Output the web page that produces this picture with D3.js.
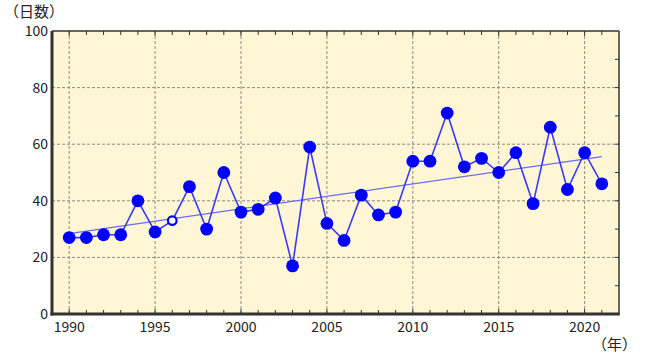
<!DOCTYPE html>
<html><head><meta charset="utf-8">
<script src="https://cdn.jsdelivr.net/npm/d3@7"></script>
<style>body{margin:0;background:#fff}svg{display:block}</style>
</head><body><svg id="c" width="660" height="355"></svg>
<script>
const years = d3.range(1990, 2022);
const days = [27,27,28,28,40,29,33,45,30,50,36,37,41,17,59,32,26,42,35,36,54,54,71,52,55,50,57,39,66,44,57,46];
const openYears = [1996];
const trendYears = [1990, 2021];
const trendValues = [28.4, 55.6];
const xTicks = [1990,1995,2000,2005,2010,2015,2020];
const yTicks = [0,20,40,60,80,100];

const svg = d3.select('#c');
const L=52, R=619, T=31, B=314;
const x = d3.scaleLinear().domain([1989,2022]).range([L,R]);
const y = d3.scaleLinear().domain([0,100]).range([B,T]);
const font = '"Noto Sans CJK JP", sans-serif';

svg.append('rect').attr('x',L).attr('y',T).attr('width',R-L).attr('height',B-T).attr('fill','#FFF6D5');

const g = svg.append('g');
// grid
g.selectAll('.vg').data(xTicks).enter().append('line')
 .attr('x1',d=>x(d)).attr('x2',d=>x(d)).attr('y1',T).attr('y2',B)
 .attr('stroke','#8a8a80').attr('stroke-width',1).attr('stroke-dasharray','3,2');
g.selectAll('.hg').data([20,40,60,80]).enter().append('line')
 .attr('x1',L).attr('x2',R).attr('y1',d=>y(d)).attr('y2',d=>y(d))
 .attr('stroke','#8a8a80').attr('stroke-width',1).attr('stroke-dasharray','3,2');

// minor ticks
const allYears = d3.range(1990,2022);
g.selectAll('.bt').data(allYears).enter().append('line')
 .attr('x1',d=>x(d)).attr('x2',d=>x(d)).attr('y1',B).attr('y2',d=>B-(d%5===0?5:4))
 .attr('stroke','#333').attr('stroke-width',1);
g.selectAll('.tt').data(allYears).enter().append('line')
 .attr('x1',d=>x(d)).attr('x2',d=>x(d)).attr('y1',T).attr('y2',d=>T+(d%5===0?5:4))
 .attr('stroke','#333').attr('stroke-width',1);
g.selectAll('.rt').data(d3.range(10,100,10)).enter().append('line')
 .attr('x1',R).attr('x2',R-4).attr('y1',d=>y(d)).attr('y2',d=>y(d))
 .attr('stroke','#333').attr('stroke-width',1);

// frame
svg.append('line').attr('x1',L).attr('x2',R).attr('y1',T).attr('y2',T).attr('stroke','#333').attr('stroke-width',1.5);
svg.append('line').attr('x1',R).attr('x2',R).attr('y1',T).attr('y2',B).attr('stroke','#333').attr('stroke-width',1.5);
svg.append('line').attr('x1',L).attr('x2',L).attr('y1',T).attr('y2',B+1.5).attr('stroke','#333').attr('stroke-width',3);
svg.append('line').attr('x1',L-1.5).attr('x2',R+0.75).attr('y1',B).attr('y2',B).attr('stroke','#333').attr('stroke-width',3);

// axes labels
svg.selectAll('.yl').data(yTicks).enter().append('text')
 .attr('x',L-4).attr('y',d=>y(d)+5).attr('text-anchor','end')
 .attr('font-family',font).attr('font-size',14).attr('fill','#222').text(d=>d);
svg.selectAll('.xl').data(xTicks).enter().append('text')
 .attr('x',d=>x(d)).attr('y',B+18).attr('text-anchor','middle')
 .attr('font-family',font).attr('font-size',14).attr('fill','#222').text(d=>d);
svg.append('text').attr('x',4).attr('y',17).attr('font-family',font).attr('font-size',15).attr('fill','#222').text('（日数）');
svg.append('text').attr('x',592).attr('y',350).attr('font-family',font).attr('font-size',15).attr('fill','#222').text('（年）');

// trend
svg.append('line').attr('x1',x(trendYears[0])).attr('x2',x(trendYears[1]))
 .attr('y1',y(trendValues[0])).attr('y2',y(trendValues[1]))
 .attr('stroke','#6a6af5').attr('stroke-width',1.2);

// data line
const line = d3.line().x((d,i)=>x(years[i])).y(d=>y(d));
svg.append('path').datum(days).attr('d',line).attr('fill','none').attr('stroke','#3a3af5').attr('stroke-width',1.6);

// markers
svg.selectAll('.pt').data(days).enter().append('circle')
 .attr('cx',(d,i)=>x(years[i])).attr('cy',d=>y(d))
 .attr('r',(d,i)=>openYears.includes(years[i])?4.3:6.4)
 .attr('fill',(d,i)=>openYears.includes(years[i])?'#fff':'#0000ff')
 .attr('stroke','#0000ff').attr('stroke-width',(d,i)=>openYears.includes(years[i])?2.2:0);
</script></body></html>
